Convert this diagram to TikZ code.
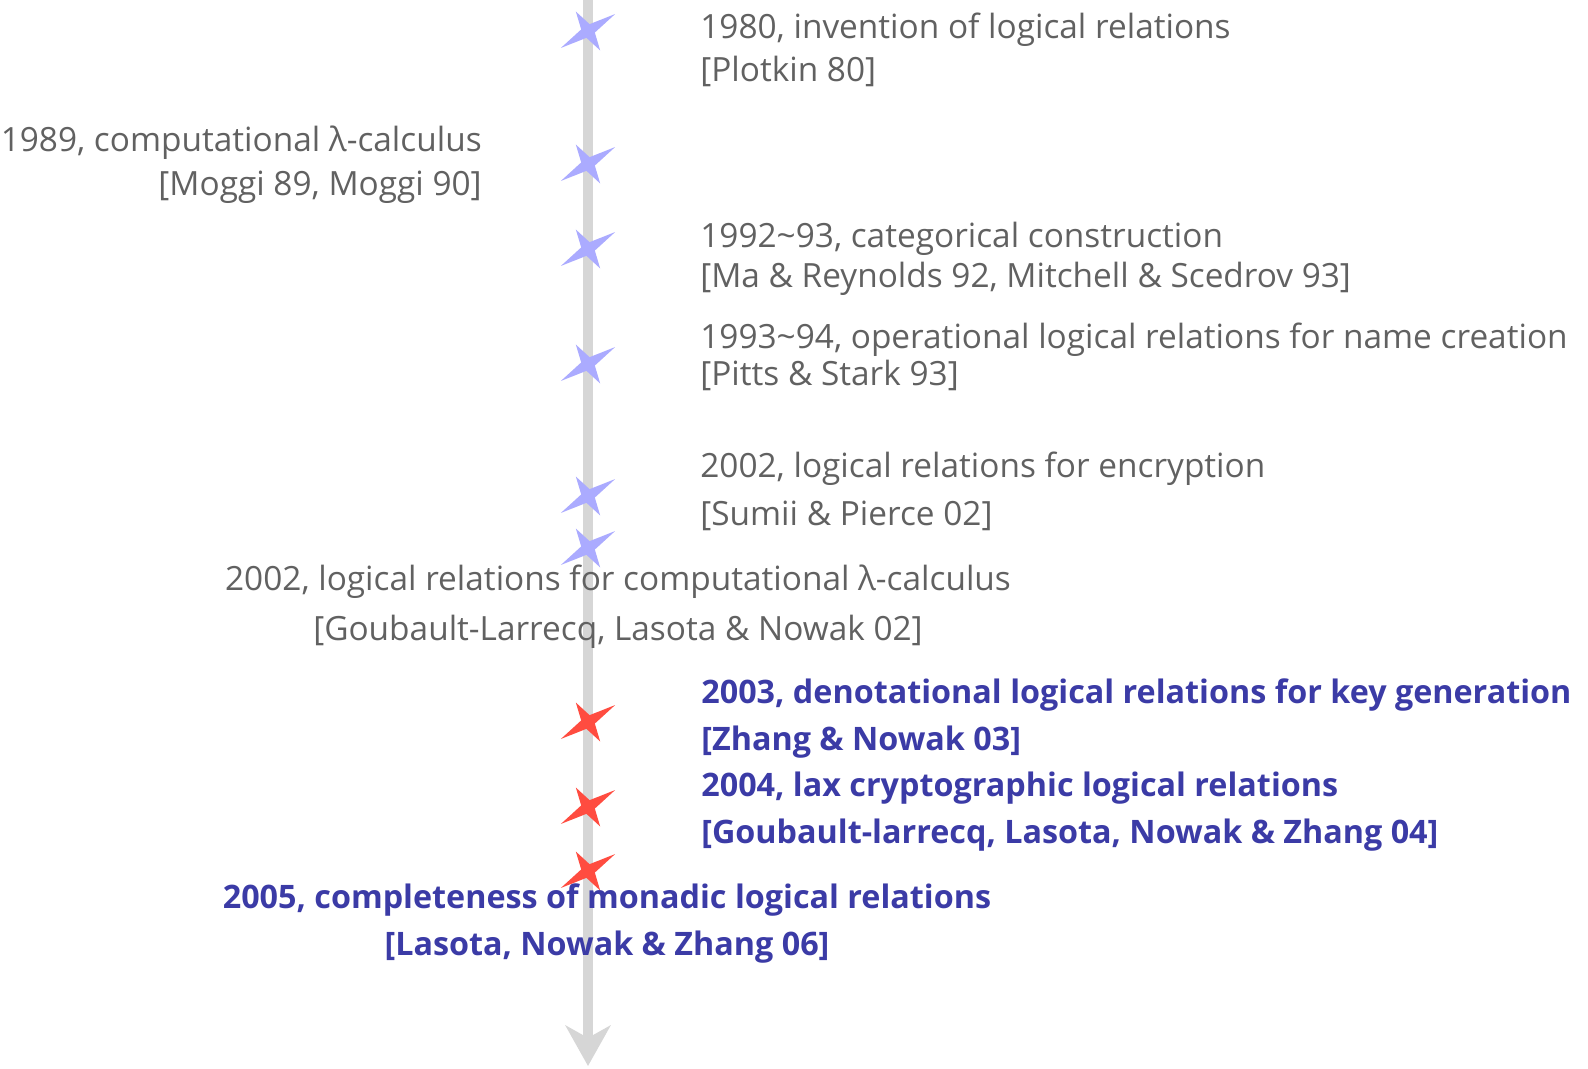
\documentclass[tikz,border=0pt]{standalone}
\usepackage{fontspec}
\newfontfamily\tlfont{Open Sans}
\usetikzlibrary{arrows.meta}
\definecolor{textgray}{rgb}{0.38,0.38,0.38}
\definecolor{textblue}{rgb}{0.23,0.23,0.65}
\definecolor{starblue}{rgb}{0.67,0.67,1.0}
\definecolor{starred}{rgb}{1.0,0.30,0.25}
\definecolor{bargray}{rgb}{0.84,0.84,0.84}
\newcommand{\tlstar}[2]{\fill[#1] (#2) +(-32:32) -- +(-77:7) -- +(-122:23) -- +(-167:7) -- +(-212:32) -- +(-257:7) -- +(-302:23) -- +(-347:7) -- cycle;}
\tikzset{oldref/.style={text=textgray, font=\tlfont\fontsize{19}{22}\selectfont, inner sep=0pt},
  newref/.style={text=textblue, font=\tlfont\bfseries\fontsize{18.4}{22}\selectfont, inner sep=0pt},
  timeline/.style={draw=bargray, line width=6.2pt, -{Stealth[length=23pt,width=25.5pt,inset=7pt]}}
}

\begin{document}
\begin{tikzpicture}[x=0.02cm,y=-0.02cm]
\useasboundingbox (0,0) rectangle (1588,1068);
\coordinate (T) at (588,0);
\coordinate (B) at (588,1066);
\coordinate (s80) at (588,31);
\coordinate (s89) at (588,164);
\coordinate (s92) at (588,249);
\coordinate (s93) at (588,364);
\coordinate (s02a) at (588,496);
\coordinate (s02b) at (588,548);
\coordinate (s03) at (588,722);
\coordinate (s04) at (588,807);
\coordinate (s05) at (588,871);
\draw[timeline] (T) -- (B);
\node[oldref,anchor=base west] (plotkin1) at (700,39) {1980, invention of logical relations};
\node[oldref,anchor=base west] (plotkin2) at (700,82) {[Plotkin 80]};
\node[oldref,anchor=base east] (moggi1) at (482,152) {1989, computational λ-calculus};
\node[oldref,anchor=base east] (moggi2) at (482,195) {[Moggi 89, Moggi 90]};
\node[oldref,anchor=base west] (mitchell1) at (700,247) {1992\textasciitilde93, categorical construction};
\node[oldref,anchor=base west] (mitchell2) at (700,287) {[Ma \& Reynolds 92, Mitchell \& Scedrov 93]};
\node[oldref,anchor=base west] (pitts1) at (700,348) {1993\textasciitilde94, operational logical relations for name creation};
\node[oldref,anchor=base west] (pitts2) at (700,385) {[Pitts \& Stark 93]};
\node[oldref,anchor=base west] (sumii1) at (700,477) {2002, logical relations for encryption};
\node[oldref,anchor=base west] (sumii2) at (700,525) {[Sumii \& Pierce 02]};
\node[oldref,anchor=base] (gln1) at (618,590) {2002, logical relations for computational λ-calculus};
\node[oldref,anchor=base] (gln2) at (618,640) {[Goubault-Larrecq, Lasota \& Nowak 02]};
\node[newref,anchor=base west] (zn1) at (701,703) {2003, denotational logical relations for key generation};
\node[newref,anchor=base west] (zn2) at (701,750) {[Zhang \& Nowak 03]};
\node[newref,anchor=base west] (glnz1) at (701,796) {2004, lax cryptographic logical relations};
\node[newref,anchor=base west] (glnz2) at (701,843) {[Goubault-larrecq, Lasota, Nowak \& Zhang 04]};
\node[newref,anchor=base] (lnz1) at (607,908) {2005, completeness of monadic logical relations};
\node[newref,anchor=base] (lnz2) at (607,955) {[Lasota, Nowak \& Zhang 06]};
\tlstar{starblue}{s80}
\tlstar{starblue}{s89}
\tlstar{starblue}{s92}
\tlstar{starblue}{s93}
\tlstar{starblue}{s02a}
\tlstar{starblue}{s02b}
\tlstar{starred}{s03}
\tlstar{starred}{s04}
\tlstar{starred}{s05}
\end{tikzpicture}
\end{document}
